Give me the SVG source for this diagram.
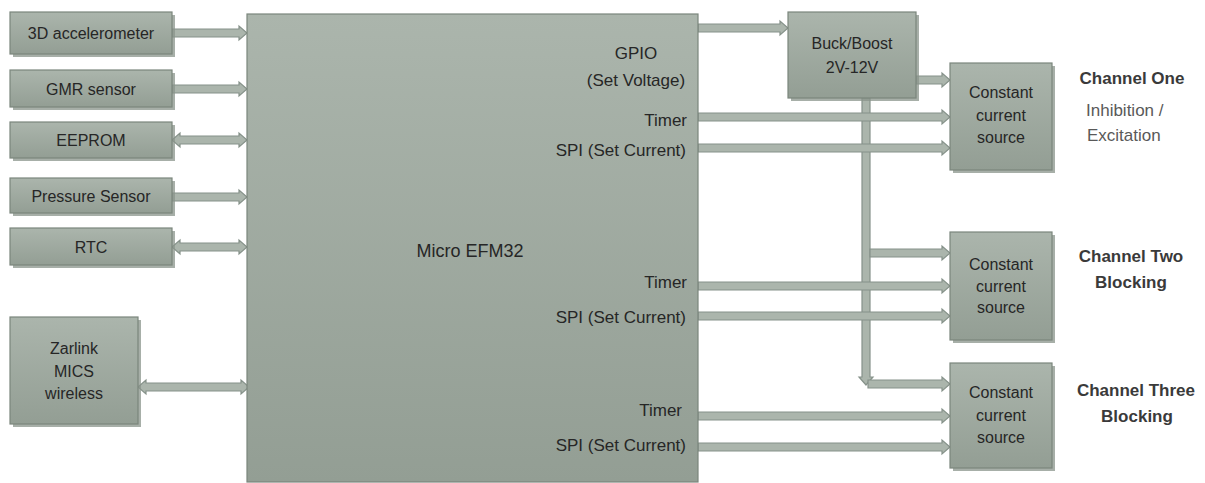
<svg xmlns="http://www.w3.org/2000/svg" width="1205" height="483" viewBox="0 0 1205 483">
  <defs>
    <linearGradient id="boxg" x1="0" y1="0" x2="0" y2="1">
      <stop offset="0" stop-color="#abb5ac"/>
      <stop offset="1" stop-color="#939e94"/>
    </linearGradient>
    <style>
      .box { fill: url(#boxg); stroke: #7b867c; stroke-width: 1.2; }
      .shadow { fill: #8a948b; opacity: 0.75; }
      .arr { fill: #abb5ac; stroke: #86928a; stroke-width: 1.2; stroke-linejoin: miter; }
      .t { font-family: "Liberation Sans", Arial, sans-serif; font-size: 16px; fill: #262626; }
      .tm { font-family: "Liberation Sans", Arial, sans-serif; font-size: 17px; fill: #262626; }
      .ch { font-family: "Liberation Sans", Arial, sans-serif; font-size: 17px; font-weight: bold; fill: #3a3a3a; }
      .note { font-family: "Liberation Sans", Arial, sans-serif; font-size: 17px; fill: #595959; }
    </style>
  </defs>
  <rect width="1205" height="483" fill="#ffffff"/>

  <g id="connectors">
    <polygon class="arr" points="172,29 239,29 239,26 247,33 239,40 239,37 172,37"/>
    <polygon class="arr" points="172,85 239,85 239,82 247,89 239,96 239,93 172,93"/>
    <polygon class="arr" points="172,140 180,133 180,136 239,136 239,133 247,140 239,147 239,144 180,144 180,147"/>
    <polygon class="arr" points="172,193 239,193 239,190 247,197 239,204 239,201 172,201"/>
    <polygon class="arr" points="172,247 180,240 180,243 239,243 239,240 247,247 239,254 239,251 180,251 180,254"/>
    <polygon class="arr" points="138,387 146,380 146,383 241,383 241,380 249,387 241,394 241,391 146,391 146,394"/>
    <polygon class="arr" points="698,24 780,24 780,21 788,28 780,35 780,32 698,32"/>
    <polygon class="arr" points="916,76 942,76 942,73 950,80 942,87 942,84 916,84"/>
    <polygon class="arr" points="862,98 870,98 870,377 873,377 866,385 859,377 862,377"/>
    <polygon class="arr" points="870,249 942,249 942,246 950,253 942,260 942,257 870,257"/>
    <polygon class="arr" points="868,380 942,380 942,377 950,384 942,391 942,388 868,388"/>
    <polygon class="arr" points="698,113 942,113 942,110 950,117 942,124 942,121 698,121"/>
    <polygon class="arr" points="698,144 942,144 942,141 950,148 942,155 942,152 698,152"/>
    <polygon class="arr" points="698,282 942,282 942,279 950,286 942,293 942,290 698,290"/>
    <polygon class="arr" points="698,312 942,312 942,309 950,316 942,323 942,320 698,320"/>
    <polygon class="arr" points="698,412 942,412 942,409 950,416 942,423 942,420 698,420"/>
    <polygon class="arr" points="698,443 942,443 942,440 950,447 942,454 942,451 698,451"/>
  </g>

  <g id="accel">
    <rect class="shadow" x="13" y="15" width="162" height="42"/>
    <rect class="box" x="10" y="12" width="162" height="42"/>
    <text class="t" x="91" y="39" text-anchor="middle">3D accelerometer</text>
  </g>
  <g id="gmr">
    <rect class="shadow" x="13" y="73" width="162" height="37"/>
    <rect class="box" x="10" y="70" width="162" height="37"/>
    <text class="t" x="91" y="95" text-anchor="middle">GMR sensor</text>
  </g>
  <g id="eeprom">
    <rect class="shadow" x="13" y="125" width="162" height="36"/>
    <rect class="box" x="10" y="122" width="162" height="36"/>
    <text class="t" x="91" y="146" text-anchor="middle">EEPROM</text>
  </g>
  <g id="pressure">
    <rect class="shadow" x="13" y="181" width="162" height="35"/>
    <rect class="box" x="10" y="178" width="162" height="35"/>
    <text class="t" x="91" y="202" text-anchor="middle">Pressure Sensor</text>
  </g>
  <g id="rtc">
    <rect class="shadow" x="13" y="231" width="162" height="37"/>
    <rect class="box" x="10" y="228" width="162" height="37"/>
    <text class="t" x="91" y="253" text-anchor="middle">RTC</text>
  </g>
  <g id="zarlink">
    <rect class="shadow" x="13" y="320" width="128" height="107"/>
    <rect class="box" x="10" y="317" width="128" height="107"/>
    <text class="t" x="74" y="354" text-anchor="middle">Zarlink</text>
    <text class="t" x="74" y="377" text-anchor="middle">MICS</text>
    <text class="t" x="74" y="399" text-anchor="middle">wireless</text>
  </g>

  <g id="micro">
    <rect class="box" x="247" y="14" width="451" height="468"/>
    <text class="tm" x="636" y="59" text-anchor="middle">GPIO</text>
    <text class="tm" x="636" y="86" text-anchor="middle">(Set Voltage)</text>
    <text class="tm" x="687" y="126" text-anchor="end">Timer</text>
    <text class="tm" x="686" y="156" text-anchor="end">SPI (Set Current)</text>
    <text class="tm" x="470" y="257" text-anchor="middle" style="font-size:18px">Micro EFM32</text>
    <text class="tm" x="687" y="288" text-anchor="end">Timer</text>
    <text class="tm" x="686" y="323" text-anchor="end">SPI (Set Current)</text>
    <text class="tm" x="682" y="416" text-anchor="end">Timer</text>
    <text class="tm" x="686" y="451" text-anchor="end">SPI (Set Current)</text>
  </g>

  <g id="buckboost">
    <rect class="shadow" x="791" y="15" width="128" height="86"/>
    <rect class="box" x="788" y="12" width="128" height="86"/>
    <text class="t" x="852" y="49" text-anchor="middle">Buck/Boost</text>
    <text class="t" x="852" y="73" text-anchor="middle">2V-12V</text>
  </g>

  <g id="ccs1">
    <rect class="shadow" x="953" y="66" width="102" height="107"/>
    <rect class="box" x="950" y="63" width="102" height="107"/>
    <text class="t" x="1001" y="98" text-anchor="middle">Constant</text>
    <text class="t" x="1001" y="121" text-anchor="middle">current</text>
    <text class="t" x="1001" y="143" text-anchor="middle">source</text>
  </g>
  <g id="ccs2">
    <rect class="shadow" x="953" y="235" width="102" height="108"/>
    <rect class="box" x="950" y="232" width="102" height="108"/>
    <text class="t" x="1001" y="270" text-anchor="middle">Constant</text>
    <text class="t" x="1001" y="292" text-anchor="middle">current</text>
    <text class="t" x="1001" y="313" text-anchor="middle">source</text>
  </g>
  <g id="ccs3">
    <rect class="shadow" x="953" y="366" width="102" height="105"/>
    <rect class="box" x="950" y="363" width="102" height="105"/>
    <text class="t" x="1001" y="398" text-anchor="middle">Constant</text>
    <text class="t" x="1001" y="421" text-anchor="middle">current</text>
    <text class="t" x="1001" y="443" text-anchor="middle">source</text>
  </g>

  <g id="labels">
    <text class="ch" x="1132" y="84" text-anchor="middle">Channel One</text>
    <text class="note" x="1086" y="116">Inhibition /</text>
    <text class="note" x="1087" y="141">Excitation</text>
    <text class="ch" x="1131" y="262" text-anchor="middle">Channel Two</text>
    <text class="ch" x="1131" y="288" text-anchor="middle">Blocking</text>
    <text class="ch" x="1136" y="396" text-anchor="middle">Channel Three</text>
    <text class="ch" x="1137" y="422" text-anchor="middle">Blocking</text>
  </g>
</svg>
